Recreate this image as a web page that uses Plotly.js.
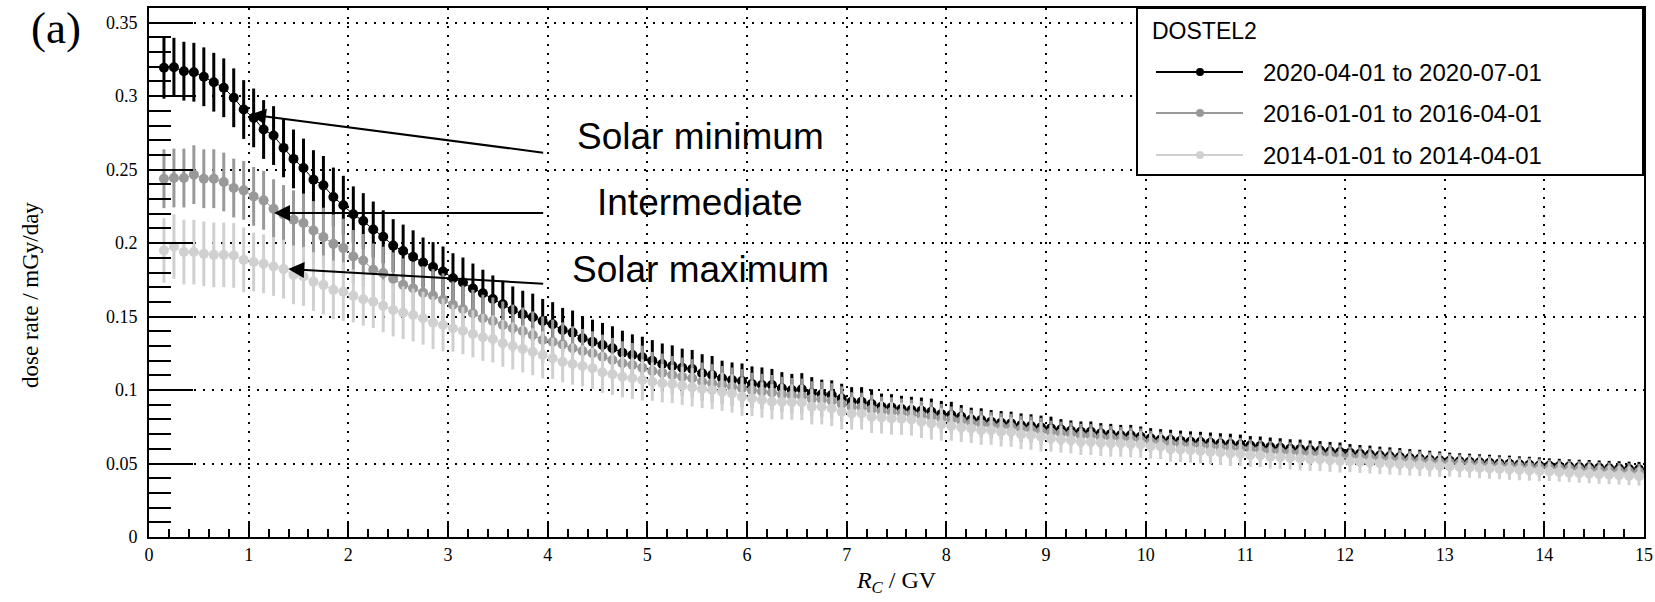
<!DOCTYPE html>
<html><head><meta charset="utf-8">
<script src="https://cdn.plot.ly/plotly-3.0.1.min.js"></script>
<style>html,body{margin:0;padding:0;background:#fff}#chart{width:1655px;height:602px}</style>
</head><body><div id="chart"></div>
<script>
// Cutoff rigidity bin centres (GV)
const rc = [0.15,0.25,0.35,0.45,0.55,0.65,0.75,0.85,0.95,
1.05,1.15,1.25,1.35,1.45,1.55,1.65,1.75,1.85,1.95,
2.05,2.15,2.25,2.35,2.45,2.55,2.65,2.75,2.85,2.95,
3.05,3.15,3.25,3.35,3.45,3.55,3.65,3.75,3.85,3.95,
4.05,4.15,4.25,4.35,4.45,4.55,4.65,4.75,4.85,4.95,
5.05,5.15,5.25,5.35,5.45,5.55,5.65,5.75,5.85,5.95,
6.05,6.15,6.25,6.35,6.45,6.55,6.65,6.75,6.85,6.95,
7.05,7.15,7.25,7.35,7.45,7.55,7.65,7.75,7.85,7.95,
8.05,8.15,8.25,8.35,8.45,8.55,8.65,8.75,8.85,8.95,
9.05,9.15,9.25,9.35,9.45,9.55,9.65,9.75,9.85,9.95,
10.05,10.15,10.25,10.35,10.45,10.55,10.65,10.75,10.85,10.95,
11.05,11.15,11.25,11.35,11.45,11.55,11.65,11.75,11.85,11.95,
12.05,12.15,12.25,12.35,12.45,12.55,12.65,12.75,12.85,12.95,
13.05,13.15,13.25,13.35,13.45,13.55,13.65,13.75,13.85,13.95,
14.05,14.15,14.25,14.35,14.45,14.55,14.65,14.75,14.85,14.95];

// 2020-04-01 to 2020-07-01 (solar minimum)
const doseMin = [.3193,.3197,.3170,.3163,.3132,.3095,.3057,.2989,.2909,
.2852,.2773,.2732,.2648,.2573,.2511,.2432,.2393,.2314,.2258,
.2196,.2150,.2093,.2043,.1983,.1946,.1907,.1868,.1837,.1807,
.1761,.1732,.1691,.1659,.1620,.1584,.1545,.1516,.1496,.1470,
.1448,.1409,.1391,.1353,.1329,.1307,.1284,.1254,.1239,.1223,
.1200,.1177,.1164,.1152,.1143,.1114,.1102,.1080,.1068,.1061,
.1041,.1034,.1034,.1012,.1000,.1005,.0978,.0971,.0966,.0943,
.0920,.0920,.0905,.0886,.0882,.0871,.0864,.0859,.0852,.0836,
.0830,.0818,.0800,.0796,.0784,.0777,.0773,.0761,.0755,.0746,
.0739,.0732,.0723,.0716,.0716,.0705,.0700,.0693,.0693,.0682,
.0671,.0664,.0660,.0654,.0649,.0646,.0641,.0636,.0633,.0627,
.0622,.0619,.0612,.0607,.0600,.0598,.0592,.0588,.0582,.0578,
.0573,.0566,.0562,.0555,.0550,.0545,.0538,.0534,.0527,.0522,
.0519,.0515,.0512,.0508,.0505,.0501,.0499,.0494,.0491,.0487,
.0485,.0482,.0479,.0476,.0474,.0471,.0468,.0466,.0463,.0461];
const errMin = [.021,.020,.020,.020,.020,.020,.020,.020,.020,
.020,.020,.020,.020,.020,.020,.020,.020,.020,.020,
.019,.019,.019,.018,.018,.018,.018,.017,.017,.017,
.017,.017,.017,.016,.016,.016,.016,.016,.016,.015,
.015,.015,.015,.015,.015,.015,.015,.015,.014,.014,
.014,.014,.014,.013,.013,.013,.013,.012,.012,.012,
.012,.012,.011,.011,.011,.011,.011,.010,.010,.010,
.010,.010,.010,.009,.009,.009,.009,.009,.009,.009,
.009,.008,.008,.008,.008,.008,.008,.008,.008,.008,
.008,.007,.007,.007,.007,.007,.007,.007,.007,.007,
.007,.007,.007,.007,.007,.007,.007,.007,.007,.007,
.0065,.0065,.0065,.0065,.0065,.0065,.0065,.0065,.0065,.0065,
.006,.006,.006,.006,.006,.006,.006,.006,.006,.006,
.0055,.0055,.0055,.0055,.0055,.0055,.0055,.0055,.0055,.0055,
.005,.005,.005,.005,.005,.005,.005,.005,.005,.005];

// 2016-01-01 to 2016-04-01 (intermediate)
const doseInt = [.2438,.2443,.2443,.2466,.2438,.2438,.2416,.2375,.2359,
.2318,.2291,.2234,.2195,.2159,.2137,.2086,.2041,.1995,.1966,
.1909,.1882,.1818,.1796,.1757,.1716,.1693,.1663,.1643,.1614,
.1580,.1552,.1523,.1489,.1470,.1443,.1421,.1402,.1375,.1341,
.1329,.1311,.1284,.1266,.1250,.1227,.1205,.1182,.1170,.1152,
.1130,.1118,.1102,.1091,.1080,.1057,.1046,.1034,.1023,.1012,
.0998,.0990,.0983,.0970,.0962,.0958,.0940,.0935,.0926,.0905,
.0885,.0882,.0868,.0855,.0851,.0842,.0835,.0826,.0818,.0805,
.0798,.0789,.0774,.0768,.0760,.0752,.0748,.0735,.0730,.0720,
.0712,.0705,.0699,.0690,.0688,.0679,.0675,.0668,.0665,.0658,
.0647,.0642,.0634,.0629,.0623,.0621,.0614,.0609,.0605,.0599,
.0595,.0591,.0584,.0581,.0575,.0573,.0567,.0564,.0558,.0555,
.0549,.0545,.0540,.0535,.0530,.0527,.0521,.0518,.0512,.0508,
.0505,.0501,.0497,.0494,.0490,.0487,.0484,.0480,.0477,.0473,
.0470,.0467,.0464,.0461,.0458,.0455,.0452,.0449,.0446,.0443];
const errInt = [.020,.020,.020,.020,.020,.020,.020,.020,.020,
.020,.020,.020,.020,.020,.020,.020,.020,.020,.020,
.018,.018,.018,.018,.018,.018,.018,.018,.018,.018,
.016,.016,.016,.016,.016,.016,.016,.016,.016,.016,
.015,.015,.015,.015,.015,.015,.015,.015,.015,.015,
.013,.013,.013,.013,.013,.013,.013,.013,.013,.013,
.012,.012,.012,.012,.012,.012,.012,.012,.012,.012,
.010,.010,.010,.010,.010,.010,.010,.010,.010,.010,
.009,.009,.009,.009,.009,.009,.009,.009,.009,.009,
.008,.008,.008,.008,.008,.008,.008,.008,.008,.008,
.0075,.0075,.0075,.0075,.0075,.0075,.0075,.0075,.0075,.0075,
.007,.007,.007,.007,.007,.007,.007,.007,.007,.007,
.0065,.0065,.0065,.0065,.0065,.0065,.0065,.0065,.0065,.0065,
.006,.006,.006,.006,.006,.006,.006,.006,.006,.006,
.0055,.0055,.0055,.0055,.0055,.0055,.0055,.0055,.0055,.0055];

// 2014-01-01 to 2014-04-01 (solar maximum)
const doseMax = [.1950,.1977,.1939,.1939,.1927,.1920,.1920,.1916,.1886,
.1871,.1859,.1841,.1823,.1784,.1773,.1738,.1716,.1682,.1670,
.1641,.1618,.1602,.1573,.1545,.1527,.1511,.1489,.1459,.1443,
.1421,.1404,.1382,.1359,.1348,.1318,.1300,.1280,.1261,.1239,
.1216,.1193,.1177,.1164,.1148,.1121,.1107,.1091,.1080,.1068,
.1057,.1046,.1041,.1029,.1018,.1007,.1000,.0988,.0977,.0955,
.0943,.0932,.0920,.0920,.0918,.0915,.0886,.0886,.0875,.0852,
.0841,.0841,.0818,.0814,.0807,.0805,.0800,.0784,.0773,.0766,
.0755,.0746,.0739,.0727,.0727,.0716,.0714,.0698,.0693,.0682,
.0671,.0664,.0659,.0648,.0648,.0641,.0637,.0636,.0632,.0630,
.0618,.0616,.0598,.0596,.0591,.0586,.0579,.0575,.0568,.0567,
.0557,.0556,.0545,.0544,.0539,.0534,.0530,.0529,.0523,.0518,
.0516,.0511,.0507,.0503,.0500,.0496,.0493,.0490,.0486,.0483,
.0480,.0476,.0473,.0470,.0466,.0463,.0459,.0456,.0453,.0449,
.0446,.0442,.0438,.0434,.0431,.0427,.0424,.0421,.0417,.0414];
const errMax = [.022,.022,.022,.022,.022,.022,.022,.022,.022,
.020,.020,.020,.020,.020,.020,.020,.020,.020,.020,
.018,.018,.018,.018,.018,.018,.018,.018,.018,.018,
.016,.016,.016,.016,.016,.016,.016,.016,.016,.016,
.014,.014,.014,.014,.014,.014,.014,.014,.014,.014,
.013,.013,.013,.013,.013,.013,.013,.013,.013,.013,
.012,.012,.012,.012,.012,.012,.012,.012,.012,.012,
.011,.011,.011,.011,.011,.011,.011,.011,.011,.011,
.010,.010,.010,.010,.010,.010,.010,.010,.010,.010,
.009,.009,.009,.009,.009,.009,.009,.009,.009,.009,
.0085,.0085,.0085,.0085,.0085,.0085,.0085,.0085,.0085,.0085,
.008,.008,.008,.008,.008,.008,.008,.008,.008,.008,
.0075,.0075,.0075,.0075,.0075,.0075,.0075,.0075,.0075,.0075,
.007,.007,.007,.007,.007,.007,.007,.007,.007,.007,
.0065,.0065,.0065,.0065,.0065,.0065,.0065,.0065,.0065,.0065];

const seriesNames = ['2020-04-01 to 2020-07-01','2016-01-01 to 2016-04-01','2014-01-01 to 2014-04-01'];
const seriesColors = ['#000000','#999999','#d0d0d0'];
const legendTitle = 'DOSTEL2';
const phaseLabels = ['Solar minimum','Intermediate','Solar maximum'];
const yTickLabels = ['0','0.05','0.1','0.15','0.2','0.25','0.3','0.35'];
const yTickVals = [0,0.05,0.1,0.15,0.2,0.25,0.3,0.35];
const xTitle = '<i>R</i><sub><i>C</i></sub> / GV';
const yTitle = 'dose rate / mGy/day';

const ys = [doseMin, doseInt, doseMax];
const es = [errMin, errInt, errMax];
const traces = ys.map((y,i)=>({
  type:'scatter', mode:'lines+markers', x: rc, y: y, name: seriesNames[i],
  line:{color:seriesColors[i], width:1},
  marker:{color:seriesColors[i], size:10, symbol:'circle'},
  error_y:{type:'data', array: es[i], symmetric:true, color:seriesColors[i], thickness:3, width:0},
  showlegend:false, hoverinfo:'skip'
}));

const serif = 'Liberation Serif, Times New Roman, serif';
const sans = 'Liberation Sans, Arial, sans-serif';

// plot area in px
const L=149, R=1644, T=8, B=537;
const px2paperX = p => (p-L)/(R-L);
const px2paperY = p => (B-p)/(B-T);

const annotations = [
  {xref:'paper', yref:'paper', x:px2paperX(56), y:px2paperY(28), text:'(a)', showarrow:false,
   font:{family:serif, size:45, color:'#000'}, xanchor:'center', yanchor:'middle'},
  // y-axis title
  {xref:'paper', yref:'paper', x:px2paperX(30), y:px2paperY(295), text:yTitle, textangle:-90, showarrow:false,
   font:{family:serif, size:23, color:'#000'}, xanchor:'center', yanchor:'middle'},
  // phase labels
  {xref:'x', yref:'y', x:5.53, y:0.2725, text:phaseLabels[0], showarrow:false, font:{family:sans,size:37,color:'#000'}, xanchor:'center', yanchor:'middle'},
  {xref:'x', yref:'y', x:5.53, y:0.2275, text:phaseLabels[1], showarrow:false, font:{family:sans,size:37,color:'#000'}, xanchor:'center', yanchor:'middle'},
  {xref:'x', yref:'y', x:5.53, y:0.1818, text:phaseLabels[2], showarrow:false, font:{family:sans,size:37,color:'#000'}, xanchor:'center', yanchor:'middle'},
  // arrows
  {xref:'x', yref:'y', axref:'x', ayref:'y', x:1.013, y:0.2875, ax:3.97, ay:0.2614, text:'', showarrow:true, arrowhead:2, arrowsize:1.6, arrowwidth:2, arrowcolor:'#000'},
  {xref:'x', yref:'y', axref:'x', ayref:'y', x:1.254, y:0.2205, ax:3.97, ay:0.2205, text:'', showarrow:true, arrowhead:2, arrowsize:1.6, arrowwidth:2, arrowcolor:'#000'},
  {xref:'x', yref:'y', axref:'x', ayref:'y', x:1.397, y:0.1823, ax:3.97, ay:0.1723, text:'', showarrow:true, arrowhead:2, arrowsize:1.6, arrowwidth:2, arrowcolor:'#000'},
  // legend title
  {xref:'paper', yref:'paper', x:px2paperX(1150), y:px2paperY(31), text:legendTitle, showarrow:false, font:{family:sans,size:23,color:'#000'}, xanchor:'left', yanchor:'middle'}
];
const legendRowsY = [72, 113, 155];
const shapes = [
  {type:'rect', xref:'paper', yref:'paper', x0:px2paperX(1137), x1:px2paperX(1643), y0:px2paperY(175), y1:px2paperY(8), line:{color:'#000', width:2}, fillcolor:'#fff', layer:'above'}
];
seriesNames.forEach((n,i)=>{
  const yy = px2paperY(legendRowsY[i]);
  annotations.push({xref:'paper', yref:'paper', x:px2paperX(1261), y:yy, text:n, showarrow:false, font:{family:sans,size:24,color:'#000'}, xanchor:'left', yanchor:'middle'});
  shapes.push({type:'line', xref:'paper', yref:'paper', x0:px2paperX(1156), x1:px2paperX(1243), y0:yy, y1:yy, line:{color:seriesColors[i], width:2}, layer:'above'});
  shapes.push({type:'circle', xref:'paper', yref:'paper', xsizemode:'pixel', ysizemode:'pixel', xanchor:px2paperX(1200), yanchor:yy, x0:-4, x1:4, y0:-4, y1:4, fillcolor:seriesColors[i], line:{color:seriesColors[i], width:0}, layer:'above'});
});

const layout = {
  width:1655, height:602,
  margin:{l:L, r:1655-R, t:T, b:602-B, pad:0},
  paper_bgcolor:'#fff', plot_bgcolor:'#fff',
  showlegend:false,
  font:{family:serif, color:'#000'},
  xaxis:{
    range:[0,15], tick0:0, dtick:1, ticks:'inside', ticklen:16, tickwidth:2, tickcolor:'#000',
    showline:true, linewidth:2, linecolor:'#000', mirror:true,
    showgrid:true, gridcolor:'#000', gridwidth:2, griddash:'2px,7px', zeroline:false,
    tickfont:{family:serif, size:18, color:'#000'},
    minor:{dtick:0.2, tick0:0, ticks:'inside', ticklen:8, tickwidth:2, tickcolor:'#000', showgrid:false},
    title:{text:xTitle, font:{family:serif, size:24, color:'#000'}, standoff:8},
    automargin:false, fixedrange:true
  },
  yaxis:{
    range:[0,0.36], tickmode:'array', tickvals:yTickVals, ticktext:yTickLabels,
    ticks:'inside', ticklen:44, tickwidth:2, tickcolor:'#000',
    showline:true, linewidth:2, linecolor:'#000', mirror:true,
    showgrid:true, gridcolor:'#000', gridwidth:2, griddash:'2px,7px', zeroline:false,
    tickfont:{family:serif, size:18, color:'#000'}, ticklabelstandoff:6,
    minor:{dtick:0.01, tick0:0, ticks:'inside', ticklen:22, tickwidth:2, tickcolor:'#000', showgrid:false},
    automargin:false, fixedrange:true
  },
  annotations: annotations,
  shapes: shapes
};

Plotly.newPlot('chart', traces, layout, {displayModeBar:false, staticPlot:true});
</script>
</body></html>
